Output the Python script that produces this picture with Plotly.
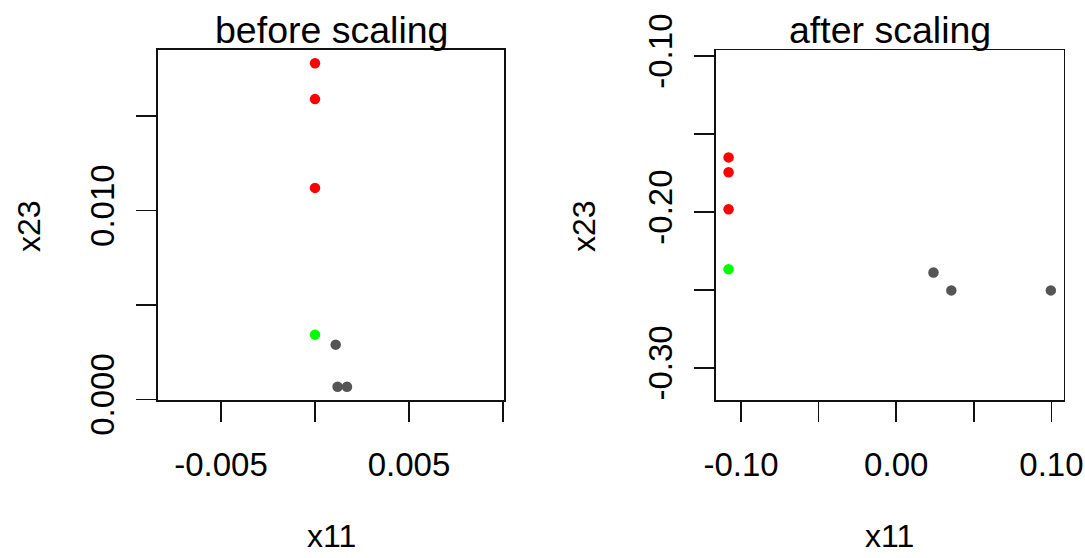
import plotly.graph_objects as go

# ---- data: before scaling ----
before_red_x = [0.0, 0.0, 0.0]
before_red_y = [0.0178, 0.0159, 0.0112]
before_green_x = [0.0]
before_green_y = [0.00343]
before_gray_x = [0.0011, 0.0012, 0.0017]
before_gray_y = [0.0029, 0.00067, 0.00067]

# ---- data: after scaling ----
after_red_x = [-0.108, -0.108, -0.108]
after_red_y = [-0.165, -0.1745, -0.1983]
after_green_x = [-0.108]
after_green_y = [-0.2367]
after_gray_x = [0.024, 0.0355, 0.0996]
after_gray_y = [-0.2388, -0.2503, -0.2503]

# ---- ticks ----
left_xtick_vals = [-0.005, 0.0, 0.005, 0.01]
left_xtick_text = ["-0.005", "", "0.005", ""]
left_ytick_vals = [0.0, 0.005, 0.01, 0.015]
left_ytick_text = ["0.000", "", "0.010", ""]
right_xtick_vals = [-0.10, -0.05, 0.0, 0.05, 0.10]
right_xtick_text = ["-0.10", "", "0.00", "", "0.10"]
right_ytick_vals = [-0.30, -0.25, -0.20, -0.15, -0.10]
right_ytick_text = ["-0.30", "", "-0.20", "", "-0.10"]

RED = "#FF0000"
GREEN = "#00FF00"
GRAY = "#555555"
FONT = "Liberation Sans, Arial, sans-serif"
W, H = 1085, 558

fig = go.Figure()

def add_pts(x, y, color, xa, ya):
    fig.add_trace(go.Scatter(
        x=x, y=y, mode="markers", xaxis=xa, yaxis=ya,
        marker=dict(color=color, size=10.5, symbol="circle", line=dict(width=0)),
        showlegend=False, hoverinfo="skip"))

add_pts(before_red_x, before_red_y, RED, "x", "y")
add_pts(before_green_x, before_green_y, GREEN, "x", "y")
add_pts(before_gray_x, before_gray_y, GRAY, "x", "y")
add_pts(after_red_x, after_red_y, RED, "x2", "y2")
add_pts(after_green_x, after_green_y, GREEN, "x2", "y2")
add_pts(after_gray_x, after_gray_y, GRAY, "x2", "y2")

axis_common = dict(
    showline=True, mirror=True, linecolor="#111111", linewidth=1.7,
    ticks="outside", ticklen=20, tickwidth=1.7, tickcolor="#111111",
    showgrid=False, zeroline=False, automargin=False,
    tickfont=dict(family=FONT, size=33, color="black"),
    tickmode="array",
)

def px_x(p):
    return p / W

def px_y(p):
    return 1 - p / H

fig.update_layout(
    width=W, height=H,
    margin=dict(l=0, r=0, t=0, b=0, autoexpand=False),
    paper_bgcolor="white", plot_bgcolor="white",
    font=dict(family=FONT, color="black"),
    xaxis=dict(domain=[px_x(158), px_x(504)], range=[-0.00835, 0.01005],
               tickvals=left_xtick_vals, ticktext=left_xtick_text,
               anchor="y", ticklabelstandoff=15, **axis_common),
    yaxis=dict(domain=[px_y(400), px_y(50)], range=[-0.00003, 0.0185],
               tickvals=left_ytick_vals, ticktext=left_ytick_text,
               anchor="x", tickangle=-90, ticklabelstandoff=9, **axis_common),
    xaxis2=dict(domain=[px_x(715.7), px_x(1063.7)], range=[-0.1163, 0.1079],
                tickvals=right_xtick_vals, ticktext=right_xtick_text,
                anchor="y2", ticklabelstandoff=15, **axis_common),
    yaxis2=dict(domain=[px_y(400), px_y(50.3)], range=[-0.3206, -0.0963],
                tickvals=right_ytick_vals, ticktext=right_ytick_text,
                anchor="x2", tickangle=-90, ticklabelstandoff=9, **axis_common),
)

def ann(text, x, y, size, angle=0):
    fig.add_annotation(text=text, x=px_x(x), y=px_y(y), xref="paper", yref="paper",
                       showarrow=False, xanchor="center", yanchor="middle",
                       textangle=angle, font=dict(family=FONT, size=size, color="black"))

ann("before scaling", 331, 30, 37.5)
ann("after scaling", 889.7, 30, 37.5)
ann("x11", 331, 536, 32)
ann("x11", 889.7, 536, 32)
ann("x23", 29, 226, 32, -90)
ann("x23", 584, 226, 32, -90)

fig.write_html("out.html",
               config={"displayModeBar": False, "staticPlot": True},
               post_script="document.body.style.margin='0';document.body.style.overflow='hidden';")
